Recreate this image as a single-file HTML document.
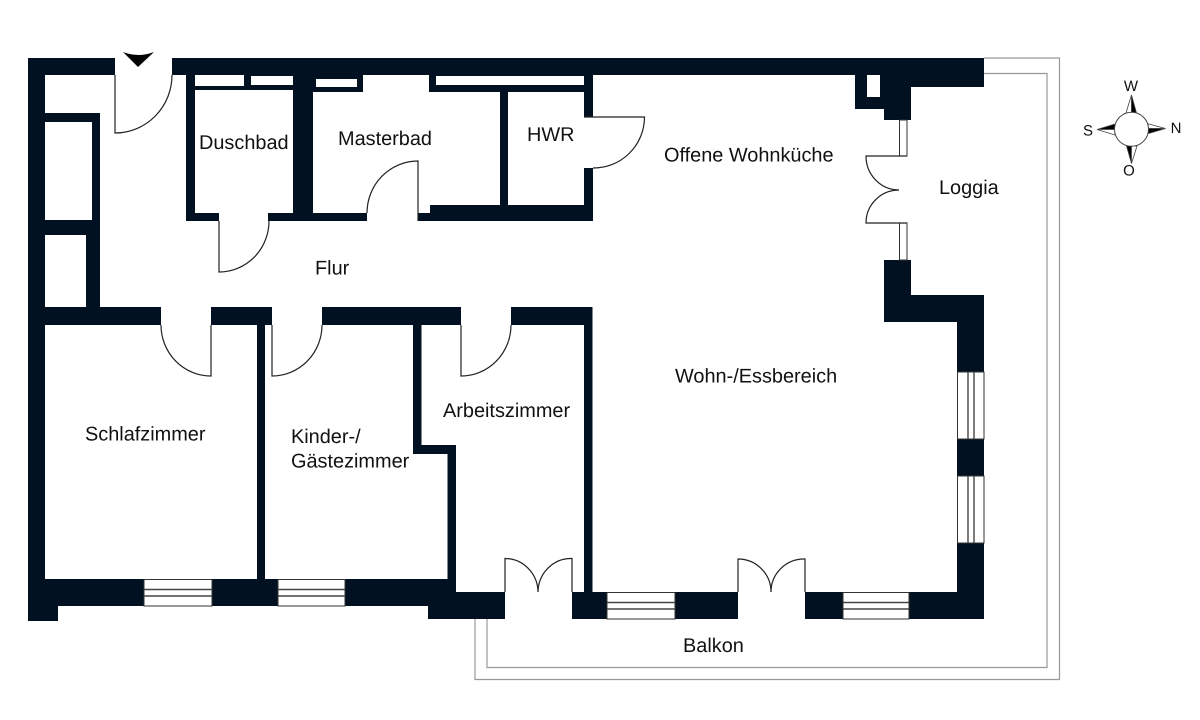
<!DOCTYPE html>
<html>
<head>
<meta charset="utf-8">
<style>
html,body{margin:0;padding:0;background:#fff;width:1200px;height:720px;overflow:hidden}
svg{display:block}
text{font-family:"Liberation Sans",sans-serif;font-size:19.9px;fill:#111;text-rendering:geometricPrecision}
</style>
</head>
<body>
<svg width="1200" height="720" viewBox="0 0 1200 720" xmlns="http://www.w3.org/2000/svg">
<rect width="1200" height="720" fill="#fff"/>
<!-- balcony outlines -->
<g fill="none" stroke="#999" stroke-width="1.2">
<path d="M984 58H1059.5V679.5H475V619"/>
<path d="M984 73.5H1047V667.5H487V619"/>
</g>
<!-- walls -->
<g fill="#021122">
<rect x="28" y="58" width="87" height="17"/>
<rect x="172" y="58" width="812" height="17"/>
<rect x="28" y="58" width="17" height="548"/>
<rect x="28" y="579" width="30" height="42"/>
<rect x="45" y="113" width="55" height="9"/>
<rect x="92" y="113" width="8" height="200"/>
<rect x="45" y="220" width="55" height="15"/>
<rect x="86" y="235" width="14" height="75"/>
<!-- flur wall -->
<rect x="45" y="307" width="116" height="18"/>
<rect x="211" y="307" width="61" height="18"/>
<rect x="322" y="307" width="139" height="18"/>
<rect x="511" y="307" width="81.500" height="18"/>
<!-- bath block -->
<rect x="186" y="75" width="9" height="146"/>
<rect x="186" y="213" width="33" height="8"/>
<rect x="268" y="213" width="45" height="8"/>
<rect x="293" y="75" width="20" height="146"/>
<rect x="195" y="75" width="99" height="15"/>
<rect x="312" y="75" width="51" height="17"/>
<rect x="313" y="213" width="54" height="8"/>
<rect x="418" y="213" width="175" height="8"/>
<rect x="430" y="205" width="163" height="16"/>
<rect x="429" y="75" width="164" height="17"/>
<rect x="500" y="92" width="8" height="115"/>
<rect x="584" y="75" width="9" height="42"/>
<rect x="584" y="168" width="9" height="53"/>
<!-- top right block -->
<rect x="855" y="70" width="29" height="39"/>
<rect x="884" y="70" width="27" height="50"/>
<rect x="911" y="70" width="73" height="17"/>
<!-- right wall -->
<path d="M884 260H911V295H984V619H805V592H957V322H884Z"/>
<!-- rooms -->
<rect x="257" y="325" width="8" height="255"/>
<rect x="413" y="325" width="8.500" height="129"/>
<rect x="413" y="445" width="43" height="9"/>
<rect x="447.500" y="445" width="8.500" height="150"/>
<rect x="584" y="325" width="8.500" height="270"/>
<!-- bottom wall -->
<rect x="45" y="579" width="403" height="27"/>
<rect x="428" y="592" width="77" height="27"/>
<rect x="447" y="579" width="9" height="20"/>
<rect x="572" y="592" width="166" height="27"/>
</g>
<!-- white niches -->
<g fill="#fff">
<rect x="195" y="75" width="49" height="11"/>
<rect x="251" y="76" width="42" height="9"/>
<rect x="316" y="79" width="41" height="8"/>
<rect x="436" y="76" width="148" height="9"/>
<rect x="867" y="75" width="13" height="22"/>
</g>
<!-- windows -->
<g fill="#fff" stroke="#333" stroke-width="1">
<rect x="144" y="579.500" width="68" height="26.500"/>
<rect x="278" y="579.500" width="67" height="26.500"/>
<rect x="607" y="592.500" width="68" height="26.500"/>
<rect x="843" y="592.500" width="66" height="26.500"/>
<rect x="957.500" y="372" width="26.500" height="67"/>
<rect x="957.500" y="476" width="26.500" height="67"/>
<rect x="899.500" y="120" width="7.500" height="36"/>
<rect x="899.500" y="223" width="7.500" height="37"/>
</g>
<g stroke="#444" stroke-width="1.4" fill="none">
<path d="M144 589.500H212M144 596H212M278 589.500H345M278 596H345"/>
<path d="M607 602.500H675M607 609H675M843 602.500H909M843 609H909"/>
<path d="M968 372V439M974 372V439M968 476V543M974 476V543"/>
</g>
<!-- doors -->
<g fill="none" stroke="#222" stroke-width="1.200">
<path d="M115 75V133A57 58 0 0 0 172 75"/>
<path d="M219 221V272A50 51 0 0 0 269 221"/>
<path d="M418 221V161A51 52 0 0 0 367 213"/>
<path d="M584 117H644.500A51 51 0 0 1 593 168"/>
<path d="M211 325V376A50 51 0 0 1 161 325"/>
<path d="M272 325V376A50 51 0 0 0 322 325"/>
<path d="M461 325V376A50 51 0 0 0 511 325"/>
<path d="M907 156H866A33 34 0 0 0 899 190A33 33 0 0 0 866 223H907"/>
<path d="M505 592V558.500A33 34 0 0 1 538 592A33 34 0 0 1 572 558.500V592"/>
<path d="M738 592V559A33 33 0 0 1 771 592A33 33 0 0 1 805 559V592"/>
</g>
<!-- entry arrow -->
<path d="M123 52Q138 58 154 52L138 67Z" fill="#000"/>
<!-- compass -->
<g stroke="#444" stroke-width="0.8">
<path d="M1131.500 95L1126 113H1131.500Z" fill="#fff"/>
<path d="M1131.500 95L1136.500 113H1131.500Z" fill="#000"/>
<path d="M1131.500 163.500L1126.500 146H1131.500Z" fill="#000"/>
<path d="M1131.500 163.500L1137 146H1131.500Z" fill="#fff"/>
<path d="M1165.500 128.500L1147 123.500V128.500Z" fill="#fff"/>
<path d="M1165.500 128.500L1147 134V128.500Z" fill="#000"/>
<path d="M1097 129.500L1115 124V129.500Z" fill="#000"/>
<path d="M1097 129.500L1115 135V129.500Z" fill="#fff"/>
</g>
<circle cx="1131.500" cy="129.300" r="17" fill="#fff" stroke="#444" stroke-width="1"/>
<text x="1131" y="91" text-anchor="middle" style="font-size:15px">W</text>
<text x="1088" y="135.500" text-anchor="middle" style="font-size:15px">S</text>
<text x="1176" y="133" text-anchor="middle" style="font-size:15px">N</text>
<text x="1129" y="175.500" text-anchor="middle" style="font-size:15px">O</text>
<!-- labels -->
<text x="199" y="149">Duschbad</text>
<text x="338" y="145">Masterbad</text>
<text x="527" y="141">HWR</text>
<text x="664" y="161.500">Offene Wohnküche</text>
<text x="939" y="194">Loggia</text>
<text x="315" y="274.500">Flur</text>
<text x="85" y="440.500">Schlafzimmer</text>
<text x="291" y="443">Kinder-/</text>
<text x="291" y="467.500">Gästezimmer</text>
<text x="443" y="417">Arbeitszimmer</text>
<text x="675" y="382.500">Wohn-/Essbereich</text>
<text x="683" y="652">Balkon</text>
</svg>
</body>
</html>
